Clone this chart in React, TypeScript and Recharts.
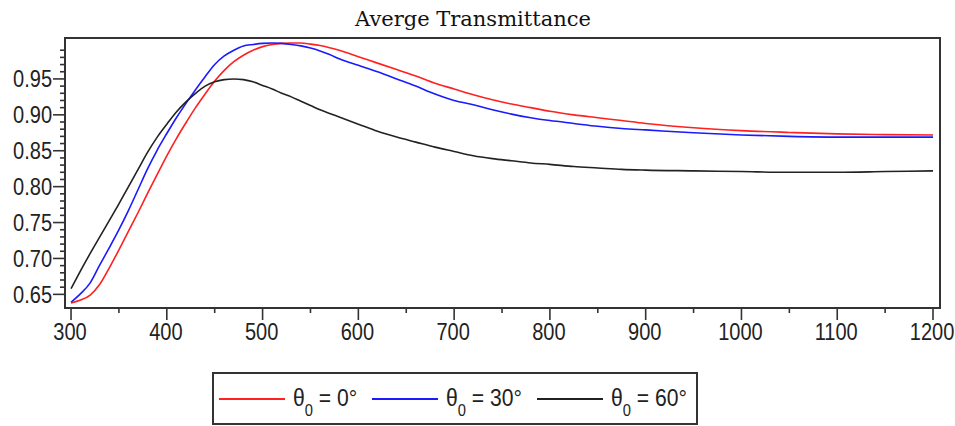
import React from 'react';
import { LineChart, Line, XAxis, YAxis, ReferenceArea, Legend } from 'recharts';

const wavelengths = [300, 310, 320, 330, 340, 350, 360, 370, 380, 390, 400, 410, 420, 430, 440, 450, 460, 470, 480, 490, 500, 510, 520, 530, 540, 550, 560, 570, 580, 600, 620, 640, 660, 680, 700, 720, 740, 760, 780, 800, 825, 850, 875, 900, 950, 1000, 1050, 1100, 1150, 1200];
const t0 = [0.638, 0.642, 0.649, 0.664, 0.687, 0.712, 0.738, 0.764, 0.791, 0.817, 0.843, 0.867, 0.889, 0.910, 0.929, 0.947, 0.962, 0.974, 0.983, 0.990, 0.995, 0.998, 0.9995, 1.0, 1.0, 0.9985, 0.9965, 0.9935, 0.990, 0.981, 0.972, 0.963, 0.954, 0.944, 0.936, 0.928, 0.921, 0.915, 0.910, 0.905, 0.900, 0.896, 0.892, 0.888, 0.882, 0.878, 0.8755, 0.8735, 0.8725, 0.872];
const t30 = [0.639, 0.651, 0.666, 0.691, 0.715, 0.740, 0.767, 0.796, 0.825, 0.851, 0.874, 0.896, 0.916, 0.935, 0.953, 0.970, 0.982, 0.990, 0.996, 0.998, 0.9995, 1.0, 0.9995, 0.998, 0.996, 0.993, 0.989, 0.984, 0.978, 0.969, 0.960, 0.950, 0.940, 0.929, 0.920, 0.914, 0.907, 0.901, 0.896, 0.892, 0.888, 0.884, 0.881, 0.879, 0.875, 0.872, 0.870, 0.869, 0.869, 0.869];
const t60 = [0.658, 0.683, 0.707, 0.730, 0.753, 0.776, 0.800, 0.824, 0.848, 0.869, 0.887, 0.904, 0.918, 0.930, 0.940, 0.946, 0.949, 0.950, 0.949, 0.946, 0.941, 0.936, 0.930, 0.925, 0.919, 0.913, 0.907, 0.902, 0.897, 0.887, 0.877, 0.869, 0.862, 0.855, 0.849, 0.843, 0.839, 0.836, 0.833, 0.831, 0.828, 0.826, 0.824, 0.823, 0.822, 0.821, 0.820, 0.820, 0.821, 0.822];

const xTicks = [300, 350, 400, 450, 500, 550, 600, 650, 700, 750, 800, 850, 900, 950, 1000, 1050, 1100, 1150, 1200];
const xLabels = [300, 400, 500, 600, 700, 800, 900, 1000, 1100, 1200];
const yTicks = [0.65, 0.66, 0.67, 0.68, 0.69, 0.70, 0.71, 0.72, 0.73, 0.74, 0.75, 0.76, 0.77, 0.78, 0.79, 0.80, 0.81, 0.82, 0.83, 0.84, 0.85, 0.86, 0.87, 0.88, 0.89, 0.90, 0.91, 0.92, 0.93, 0.94, 0.95, 0.96, 0.97, 0.98, 0.99];
const yLabels = [0.65, 0.70, 0.75, 0.80, 0.85, 0.90, 0.95];

const seriesKeys = ['t0', 't30', 't60'];
const seriesAngles = ['0', '30', '60'];
const seriesColors = ['#ff2020', '#1a1aff', '#222222'];
const title = 'Averge Transmittance';

const X_DOMAIN: [number, number] = [293.7, 1207.3];
const Y_DOMAIN: [number, number] = [0.631, 1.007];

const data = wavelengths.map((w, i) => ({ w, t0: t0[i], t30: t30[i], t60: t60[i] }));

const tickFont = "'Liberation Sans', Arial, sans-serif";
const SX = 0.87;
const LSX = 0.92;

const YTick = (props: any) => {
  const { x, y, payload } = props;
  const v = payload.value;
  const major = yLabels.some((l) => Math.abs(l - v) < 1e-6);
  return (
    <g>
      <line x1={x - (major ? 12 : 5)} x2={x} y1={y} y2={y} stroke="#333" strokeWidth={1.6} />
      {major && (
        <text
          transform={`translate(${x - 13},${y}) scale(${SX},1)`}
          x={0}
          y={0}
          dy="0.36em"
          textAnchor="end"
          fontFamily={tickFont}
          fontSize={23}
          fill="#222"
        >
          {v.toFixed(2)}
        </text>
      )}
    </g>
  );
};

const XTick = (props: any) => {
  const { x, y, payload } = props;
  const v = payload.value;
  const major = xLabels.includes(v);
  return (
    <g>
      <line x1={x} x2={x} y1={y} y2={y + (major ? 12 : 5)} stroke="#333" strokeWidth={1.6} />
      {major && (
        <text
          transform={`translate(${x - 1},${y + 32}) scale(${SX},1)`}
          x={0}
          y={0}
          textAnchor="middle"
          fontFamily={tickFont}
          fontSize={23}
          fill="#222"
        >
          {v}
        </text>
      )}
    </g>
  );
};

const legendLineX = [7, 160, 325];
const legendTextX = [81, 234, 399];

const LegendBox = () => (
  <svg width={486} height={53} style={{ display: 'block' }}>
    <rect x={1} y={1} width={484} height={51} fill="#fff" stroke="#333" strokeWidth={2} />
    {seriesKeys.map((k, i) => (
      <g key={k}>
        <line x1={legendLineX[i]} x2={legendLineX[i] + 66} y1={27} y2={27} stroke={seriesColors[i]} strokeWidth={2} />
        <text
          transform={`translate(${legendTextX[i]},34) scale(${LSX},1)`}
          x={0}
          y={0}
          fontFamily={tickFont}
          fontSize={23}
          fill="#222"
          style={{ whiteSpace: 'pre' }}
        >
          <tspan>θ</tspan>
          <tspan fontSize={16} dy={10}>0</tspan>
          <tspan dy={-10}>{` = ${seriesAngles[i]}°`}</tspan>
        </text>
      </g>
    ))}
  </svg>
);

export default function App() {
  return (
    <div style={{ position: 'absolute', left: 0, top: 0, width: 955, height: 426, background: '#fff' }}>
      <div
        style={{
          position: 'absolute',
          left: 0,
          width: 946,
          top: 9,
          textAlign: 'center',
          fontFamily: "'DejaVu Serif', serif",
          fontSize: 21,
          lineHeight: '21px',
          color: '#111',
        }}
      >
        {title}
      </div>
      <LineChart width={955} height={426} data={data} margin={{ top: 38, right: 15, left: 0, bottom: 78 }}>
        <XAxis
          dataKey="w"
          type="number"
          domain={X_DOMAIN}
          ticks={xTicks}
          interval={0}
          tickSize={0}
          tickMargin={0}
          axisLine={false}
          tickLine={false}
          height={40}
          tick={<XTick />}
          allowDataOverflow
        />
        <YAxis
          type="number"
          domain={Y_DOMAIN}
          ticks={yTicks}
          interval={0}
          tickSize={0}
          tickMargin={0}
          axisLine={false}
          tickLine={false}
          width={65}
          tick={<YTick />}
          allowDataOverflow
        />
        <ReferenceArea
          x1={X_DOMAIN[0]}
          x2={X_DOMAIN[1]}
          y1={Y_DOMAIN[0]}
          y2={Y_DOMAIN[1]}
          fill="none"
          stroke="#333"
          strokeWidth={2}
          ifOverflow="visible"
        />
        {seriesKeys.map((k, i) => (
          <Line
            key={k}
            type="monotone"
            dataKey={k}
            stroke={seriesColors[i]}
            strokeWidth={1.6}
            dot={false}
            isAnimationActive={false}
          />
        ))}
        <Legend
          verticalAlign="middle"
          align="center"
          layout="horizontal"
          wrapperStyle={{ left: 212, top: 372, width: 486, height: 53 }}
          content={() => <LegendBox />}
        />
      </LineChart>
    </div>
  );
}
